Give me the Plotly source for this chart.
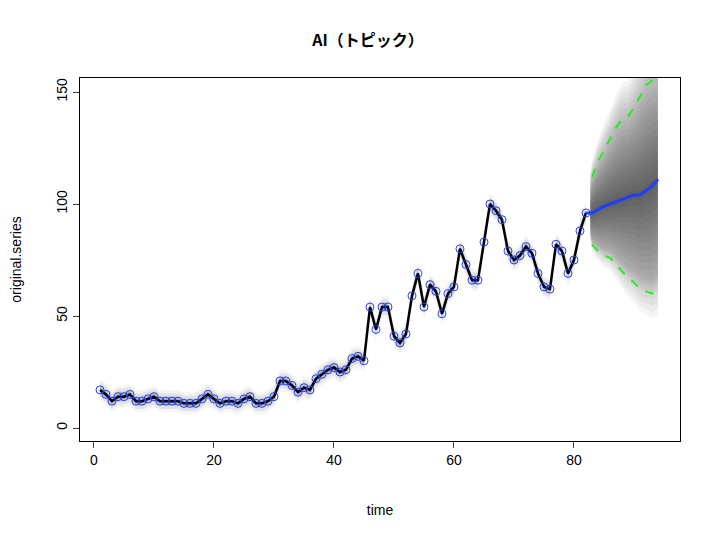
import plotly.graph_objects as go
import numpy as np

time_hist = list(range(1, 83))
series = [17,15,12,14,14,15,12,12,13,14,12,12,12,12,11,11,11,13,15,13,
          11,12,12,11,13,14,11,11,12,14,21,21,19,16,18,17,22,24,26,27,
          25,26,31,32,30,54,44,54,54,41,38,42,59,69,54,64,61,51,60,63,
          80,73,66,66,83,100,97,93,79,75,77,81,78,69,63,62,82,79,69,75,88,96]
time_fc = list(range(83, 95))
fc_median = [96,97.5,99,100,101,102,103,104,104,106,108,111]
fc_upper = [112,119,124,129,134,138,139,143,148,153,155,157]
fc_lower = [82,79,77,76,73,70,67,65,62,61,60,62]

fig = go.Figure()
h = np.array(series, float)
t = np.array(time_hist)
for w, a in [(5, 0.04), (3.5, 0.07), (2.2, 0.1), (1.2, 0.18)]:
    fig.add_trace(go.Scatter(x=np.concatenate([t, t[::-1]]),
                             y=np.concatenate([h + w, (h - w)[::-1]]),
                             fill="toself", fillcolor=f"rgba(0,0,0,{a})",
                             line=dict(width=0), hoverinfo="skip", showlegend=False))
tf = np.array([82.7] + time_fc)
med = np.array([95] + fc_median, float)
up = np.array([108] + fc_upper, float)
lo = np.array([86] + fc_lower, float)
for f in np.linspace(1.45, 0.05, 22):
    a = 0.04
    u = med + (up - med) * f
    l = med - (med - lo) * f * (0.85 if f > 1 else 1)
    fig.add_trace(go.Scatter(x=np.concatenate([tf, tf[::-1]]),
                             y=np.concatenate([u, l[::-1]]),
                             fill="toself", fillcolor=f"rgba(0,0,0,{a})",
                             line=dict(width=0), hoverinfo="skip", showlegend=False))
fig.add_trace(go.Scatter(x=time_hist, y=series, mode="lines",
                         line=dict(color="black", width=2.5), showlegend=False))
fig.add_trace(go.Scatter(x=time_hist, y=series, mode="markers",
                         marker=dict(symbol="circle-open", color="#1f3fff", size=8, line=dict(width=1)),
                         showlegend=False))
fig.add_trace(go.Scatter(x=[82] + time_fc, y=[96] + fc_median, mode="lines",
                         line=dict(color="#1f3fff", width=3), showlegend=False))
for arr in (fc_upper, fc_lower):
    fig.add_trace(go.Scatter(x=time_fc, y=arr, mode="lines",
                             line=dict(color="#22ee22", width=2, dash="dash"), showlegend=False))

fig.update_layout(
    width=720, height=540, plot_bgcolor="white", paper_bgcolor="white",
    margin=dict(l=72, r=48, t=70, b=107),
    title=dict(text="<b>AI（トピック）</b>", x=0.5, xanchor="center", y=0.95,
               font=dict(size=16, color="black", family="Noto Sans CJK JP")),
    font=dict(family="Liberation Sans, Noto Sans CJK JP", color="black", size=14),
)
fig.update_xaxes(range=[-2.33, 97.67], tickvals=[0, 20, 40, 60, 80], showgrid=False, zeroline=False,
                 showline=True, linecolor="black", mirror=True, ticks="outside", ticklen=6,
                 automargin=False,
                 title=dict(text="time", font=dict(size=14), standoff=38))
fig.update_yaxes(range=[-5.8, 156.25], tickvals=[0, 50, 100, 150], showgrid=False, zeroline=False,
                 showline=True, linecolor="black", mirror=True, ticks="outside", ticklen=6,
                 tickangle=-90, automargin=False,
                 title=dict(text="original.series", font=dict(size=14), standoff=46))
fig.write_html("out.html")
